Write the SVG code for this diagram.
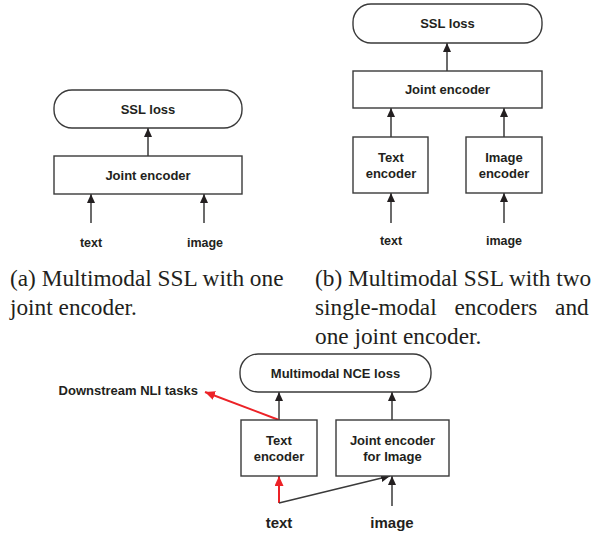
<svg xmlns="http://www.w3.org/2000/svg" width="605" height="535" viewBox="0 0 605 535">
<style>
.box{fill:#fff;stroke:#3a3a3a;stroke-width:1.4}
.ln{fill:none;stroke:#3a3a3a;stroke-width:1.5}
.red{fill:none;stroke:#ec2227;stroke-width:2}
.t{font-family:"Liberation Sans",Arial,sans-serif;font-weight:bold;font-size:13px;fill:#231f20;text-anchor:middle}
.lab{font-family:"Liberation Sans",Arial,sans-serif;font-weight:bold;font-size:12.5px;fill:#231f20;text-anchor:middle}
.labc{font-family:"Liberation Sans",Arial,sans-serif;font-weight:bold;font-size:15px;fill:#231f20;text-anchor:middle}
.cap{font-family:"Liberation Serif","Times New Roman",serif;font-size:23.3px;fill:#231f20}
</style>
<defs>
<marker id="ah" markerUnits="userSpaceOnUse" markerWidth="9" markerHeight="8" refX="9" refY="4" orient="auto"><path d="M0,0 L9,4 L0,8 z" fill="#231f20"/></marker>
<marker id="ahr" markerUnits="userSpaceOnUse" markerWidth="10" markerHeight="9" refX="10" refY="4.5" orient="auto"><path d="M0,0 L10,4.5 L0,9 z" fill="#ec2227"/></marker>
</defs>

<g id="connectors">
<line class="ln" x1="148" y1="156" x2="148" y2="128" marker-end="url(#ah)"/>
<line class="ln" x1="91" y1="223" x2="91" y2="194" marker-end="url(#ah)"/>
<line class="ln" x1="204" y1="223" x2="204" y2="194" marker-end="url(#ah)"/>
<line class="ln" x1="447" y1="71" x2="447" y2="43" marker-end="url(#ah)"/>
<line class="ln" x1="391" y1="137" x2="391" y2="108" marker-end="url(#ah)"/>
<line class="ln" x1="504" y1="137" x2="504" y2="108" marker-end="url(#ah)"/>
<line class="ln" x1="391" y1="223" x2="391" y2="193" marker-end="url(#ah)"/>
<line class="ln" x1="504" y1="223" x2="504" y2="193" marker-end="url(#ah)"/>
<line class="ln" x1="279" y1="420" x2="279" y2="392" marker-end="url(#ah)"/>
<line class="ln" x1="392" y1="420" x2="392" y2="392" marker-end="url(#ah)"/>
<line class="red" x1="279" y1="420" x2="205" y2="392" marker-end="url(#ahr)"/>
<line class="red" x1="279" y1="503" x2="279" y2="476" marker-end="url(#ahr)"/>
<line class="ln" x1="279" y1="503" x2="390" y2="476" marker-end="url(#ah)"/>
<line class="ln" x1="392" y1="506" x2="392" y2="476" marker-end="url(#ah)"/>
</g>

<g id="a-ssl-loss"><rect class="box" x="54" y="90" width="188" height="38" rx="18"/><text class="t" x="148" y="114">SSL loss</text></g>
<g id="a-joint-encoder"><rect class="box" x="54" y="156" width="188" height="38"/><text class="t" x="148" y="180">Joint encoder</text></g>
<g id="a-text"><text class="lab" x="91" y="247">text</text></g>
<g id="a-image"><text class="lab" x="205" y="247">image</text></g>

<g id="b-ssl-loss"><rect class="box" x="353" y="4" width="189" height="39" rx="18"/><text class="t" x="447.5" y="28">SSL loss</text></g>
<g id="b-joint-encoder"><rect class="box" x="353" y="71" width="189" height="37"/><text class="t" x="447.5" y="94">Joint encoder</text></g>
<g id="b-text-encoder"><rect class="box" x="353" y="137" width="75" height="56"/><text class="t" x="391" y="162">Text</text><text class="t" x="391" y="178">encoder</text></g>
<g id="b-image-encoder"><rect class="box" x="466" y="137" width="76" height="56"/><text class="t" x="504" y="162">Image</text><text class="t" x="504" y="178">encoder</text></g>
<g id="b-text"><text class="lab" x="391" y="245">text</text></g>
<g id="b-image"><text class="lab" x="504" y="245">image</text></g>

<g id="c-nce-loss"><rect class="box" x="240" y="354" width="191" height="38" rx="18"/><text class="t" x="335.5" y="378">Multimodal NCE loss</text></g>
<g id="c-text-encoder"><rect class="box" x="241" y="420" width="76" height="56"/><text class="t" x="279" y="445">Text</text><text class="t" x="279" y="461">encoder</text></g>
<g id="c-joint-encoder-image"><rect class="box" x="336" y="420" width="113" height="56"/><text class="t" x="392.5" y="445">Joint encoder</text><text class="t" x="392.5" y="461">for Image</text></g>
<g id="c-downstream"><text class="t" x="198" y="395" style="text-anchor:end">Downstream NLI tasks</text></g>
<g id="c-text"><text class="labc" x="279" y="528">text</text></g>
<g id="c-image"><text class="labc" x="392" y="528">image</text></g>

<g id="captions">
<text class="cap" x="10" y="286">(a) Multimodal SSL with one</text>
<text class="cap" x="10" y="315">joint encoder.</text>
<text class="cap" x="315" y="286">(b) Multimodal SSL with two</text>
<text class="cap" x="315" y="315" word-spacing="12">single-modal encoders and</text>
<text class="cap" x="315" y="344">one joint encoder.</text>
</g>
</svg>
